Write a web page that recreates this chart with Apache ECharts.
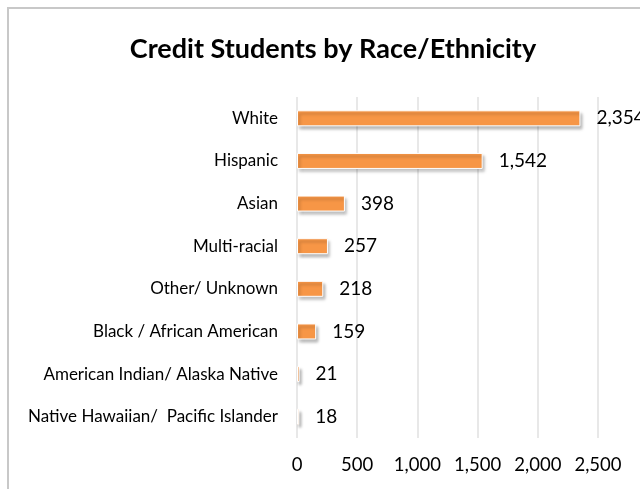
<!DOCTYPE html>
<html><head><meta charset="utf-8">
<script src="https://cdn.jsdelivr.net/npm/echarts@6/dist/echarts.min.js"></script>
<style>html,body{margin:0;padding:0;background:#fff}#c{width:640px;height:489px}</style>
</head><body><div id="c"></div>
<script>
const categories = ["White","Hispanic","Asian","Multi-racial","Other/ Unknown","Black / African American","American Indian/ Alaska Native","Native Hawaiian/  Pacific Islander"];
const values = [2354,1542,398,257,218,159,21,18];
const xTicks = [0,500,1000,1500,2000,2500];
const chart = echarts.init(document.getElementById('c'));
const font = 'Lato, "Open Sans", sans-serif';
chart.setOption({
  animation:false,
  title:{text:'Credit Students by Race/Ethnicity',left:328,top:31,textAlign:'center',
    textStyle:{fontFamily:font,fontSize:27,fontWeight:'bold',color:'#000'}},
  graphic:[{type:'rect',shape:{x:8,y:8,width:700,height:600},style:{fill:'none',stroke:'#c8c8c8',lineWidth:2},silent:true}],
  grid:{left:297,top:97,width:301,height:341,containLabel:false},
  xAxis:{type:'value',min:0,max:2500,interval:500,
    axisLine:{show:false},axisTick:{show:false},
    splitLine:{lineStyle:{color:'#e8e8e8',width:2}},
    axisLabel:{margin:18,fontFamily:font,fontSize:18.5,color:'#000',
      formatter:v=>xTicks.includes(v)?v.toLocaleString('en-US'):''}},
  yAxis:{type:'category',data:categories,inverse:true,
    axisLine:{show:false},axisTick:{show:false},
    axisLabel:{margin:19,fontFamily:font,fontSize:17,color:'#000'}},
  series:[{type:'bar',data:values,barWidth:16,
    itemStyle:{color:'#F79646',borderColor:'#fff',borderWidth:1,
      shadowColor:'rgba(0,0,0,0.3)',shadowBlur:3,shadowOffsetX:2,shadowOffsetY:3},
    label:{show:true,position:'right',distance:16,fontFamily:font,fontSize:19,color:'#000',
      formatter:p=>p.value.toLocaleString('en-US')}}]
});
</script></body></html>
